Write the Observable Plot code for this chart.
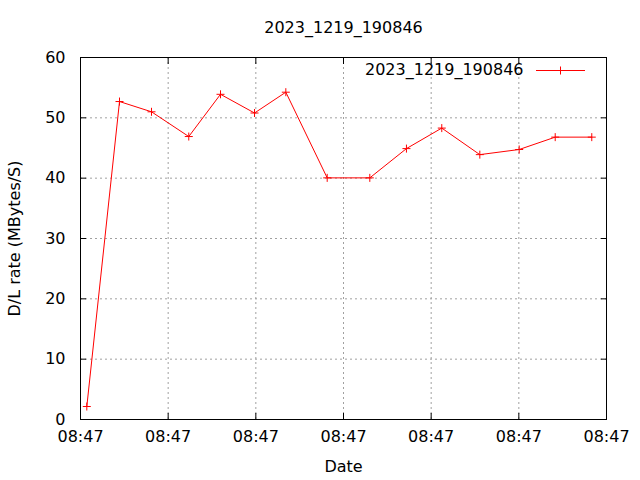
<!DOCTYPE html>
<html>
<head>
<meta charset="utf-8">
<script src="https://cdn.jsdelivr.net/npm/d3@7"></script>
<script src="https://cdn.jsdelivr.net/npm/@observablehq/plot@0.6"></script>
<style>
  html, body { margin: 0; padding: 0; background: white; }
</style>
</head>
<body>
<div id="chart"></div>
<script>
// ---- data ----
const chartTitle = "2023_1219_190846";
const seriesName = "2023_1219_190846";
const xLabel = "Date";
const yLabel = "D/L rate (MBytes/S)";
const baseTime = Date.UTC(2023, 11, 19, 8, 47, 0);
// seconds after the left edge of the time axis for each sample
const sampleSeconds = [0.72, 4.45, 8.1, 12.35, 15.97, 19.85, 23.42, 28.14, 33.0, 37.18, 41.21, 45.55, 50.04, 54.15, 58.32];
const rates = [2.15, 52.7, 51.0, 46.9, 53.9, 50.8, 54.25, 40.05, 40.05, 44.9, 48.3, 43.9, 44.75, 46.8, 46.8];
const xTickSeconds = [0, 10, 20, 30, 40, 50, 60];
const xTickLabels = ["08:47", "08:47", "08:47", "08:47", "08:47", "08:47", "08:47"];
const yTicks = [0, 10, 20, 30, 40, 50, 60];

const data = sampleSeconds.map((s, i) => ({t: new Date(baseTime + s * 1000), rate: rates[i]}));
const xTicks = xTickSeconds.map(s => new Date(baseTime + s * 1000));
const xDomain = [xTicks[0], xTicks[xTicks.length - 1]];
const tickLabel = d => xTickLabels[xTicks.findIndex(t => +t === +d)];

const plusSymbol = {
  draw(context, size) {
    const r = Math.sqrt(size / Math.PI);
    context.moveTo(-r, 0); context.lineTo(r, 0);
    context.moveTo(0, -r); context.lineTo(0, r);
  }
};

const chart = Plot.plot({
  width: 640,
  height: 480,
  marginLeft: 80,
  marginRight: 34,
  marginTop: 57,
  marginBottom: 61,
  style: {fontFamily: "DejaVu Sans", fontSize: "16px", background: "white", color: "black"},
  x: {type: "utc", domain: xDomain},
  y: {domain: [0, 60]},
  marks: [
    Plot.gridX(xTicks, {stroke: "#a0a0a0", strokeOpacity: 1, strokeDasharray: "2,3"}),
    Plot.gridY(yTicks, {stroke: "#a0a0a0", strokeOpacity: 1, strokeDasharray: "2,3"}),
    Plot.axisX(xTicks, {anchor: "bottom", tickSize: 0, tickPadding: 11, tickFormat: tickLabel, label: null}),
    Plot.axisX(xTicks, {anchor: "bottom", tickSize: -6, tickFormat: () => "", label: null}),
    Plot.axisX(xTicks, {anchor: "top", tickSize: -6, tickFormat: () => "", label: null}),
    Plot.axisY(yTicks, {anchor: "left", tickSize: 0, tickPadding: 15, label: null}),
    Plot.axisY(yTicks, {anchor: "left", tickSize: -6, tickFormat: () => "", label: null}),
    Plot.axisY(yTicks, {anchor: "right", tickSize: -6, tickFormat: () => "", label: null}),
    Plot.line(data, {x: "t", y: "rate", stroke: "#ff0000", strokeWidth: 1}),
    Plot.dot(data, {x: "t", y: "rate", symbol: plusSymbol, r: 4, stroke: "#ff0000", fill: "none", strokeWidth: 1}),
    Plot.frame({stroke: "black", strokeWidth: 1}),
    Plot.text([chartTitle], {text: d => d, frameAnchor: "top", dy: -30, lineAnchor: "middle", fill: "black"}),
    Plot.text([xLabel], {text: d => d, frameAnchor: "bottom", dy: 52, lineAnchor: "bottom", fill: "black"}),
    Plot.text([yLabel], {text: d => d, frameAnchor: "left", textAnchor: "middle", rotate: -90, dx: -66, lineAnchor: "middle", fill: "black"}),
    Plot.text([seriesName], {text: d => d, frameAnchor: "top-right", textAnchor: "end", dx: -83, dy: 12, lineAnchor: "middle", fill: "black"})
  ]
});

// legend sample line with cross marker
const svg = d3.select(chart);
const g = svg.append("g").attr("stroke", "#ff0000").attr("stroke-width", 1).attr("fill", "none");
g.append("line").attr("x1", 536).attr("x2", 585).attr("y1", 70.5).attr("y2", 70.5);
g.append("path").attr("d", "M556.5,70.5h8M560.5,66.5v8");

document.getElementById("chart").appendChild(chart);
</script>
</body>
</html>
